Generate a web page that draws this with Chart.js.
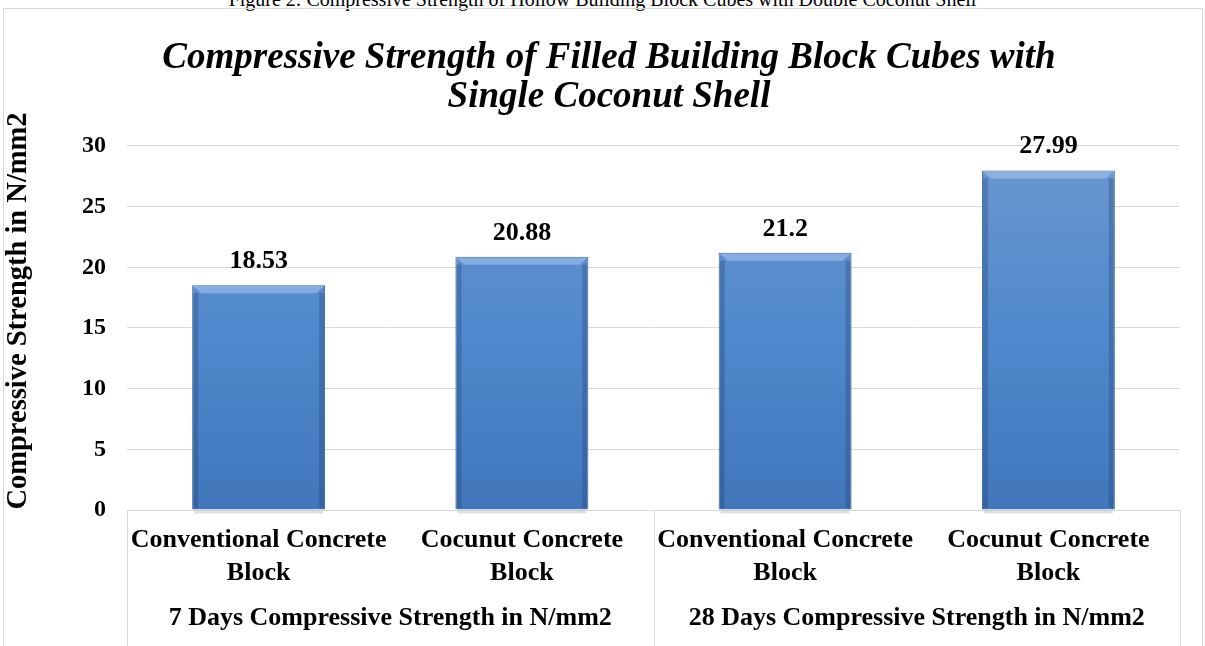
<!DOCTYPE html>
<html>
<head>
<meta charset="utf-8">
<script src="https://cdn.jsdelivr.net/npm/chart.js@4.4.1/dist/chart.umd.min.js"></script>
<style>
  body { margin: 0; background: #fff; overflow: hidden; }
  #page { position: relative; width: 1205px; height: 646px; overflow: hidden; }
  #caption { position: absolute; top: -12px; left: 0; width: 1205px; text-align: center;
    font: 20px 'Liberation Serif', 'Times New Roman', serif; color: #000; }
  #box { position: absolute; left: 3px; top: 8px; width: 1198px; height: 660px; border: 1px solid #d9d9d9; }
  #wrap { position: absolute; left: 0; top: 0; width: 1198px; height: 646px; }
</style>
</head>
<body>
<div id="page">
  <div id="caption">Figure 2: Compressive Strength of Hollow Building Block Cubes with Double Coconut Shell</div>
  <div id="box"><div id="wrap"><canvas id="chart"></canvas></div></div>
</div>
<script>
const categories = [
  ['Conventional Concrete', 'Block'],
  ['Cocunut Concrete', 'Block'],
  ['Conventional Concrete', 'Block'],
  ['Cocunut Concrete', 'Block'],
];
const groups = ['7 Days Compressive Strength in N/mm2', '28 Days Compressive Strength in N/mm2'];
const strength = [18.53, 20.88, 21.2, 27.99];
const valueLabels = ['18.53', '20.88', '21.2', '27.99'];
const yTicks = [0, 5, 10, 15, 20, 25, 30];
const yTitle = 'Compressive Strength in N/mm2';

const serif = "'Liberation Serif', 'Times New Roman', serif";
const gridGray = '#d9d9d9';

const barFill = (ctx) => {
  const { chart } = ctx;
  const area = chart.chartArea;
  if (!area) return '#4f81bd';
  const g = chart.ctx.createLinearGradient(0, area.top, 0, area.bottom);
  g.addColorStop(0, '#6c97cf');
  g.addColorStop(0.5, '#5089cd');
  g.addColorStop(1, '#4176bb');
  return g;
};

// bevel look, value labels, group separators, y title
const barExtras = {
  id: 'barExtras',
  afterDatasetsDraw(chart) {
    const c = chart.ctx;
    chart.getDatasetMeta(0).data.forEach((bar, i) => {
      const { x, y, base, width } = bar.getProps(['x', 'y', 'base', 'width'], true);
      const l = x - width / 2, r = x + width / 2;
      c.save();
      c.fillStyle = 'rgba(170,200,240,0.55)';
      c.beginPath();
      c.moveTo(l + 1, y + 1); c.lineTo(r - 1, y + 1); c.lineTo(r - 9, y + 8); c.lineTo(l + 9, y + 8);
      c.closePath(); c.fill();
      c.fillStyle = 'rgba(30,60,110,0.3)';
      c.fillRect(l + 1, y + 8, 5, base - y - 9);
      c.fillRect(r - 6, y + 8, 5, base - y - 9);
      c.fillStyle = 'rgba(0,0,0,0.12)';
      c.fillRect(l + 2, base + 1, width - 4, 3);
      c.fillStyle = '#000';
      c.font = 'bold 26px ' + serif;
      c.textAlign = 'center';
      c.textBaseline = 'alphabetic';
      c.fillText(valueLabels[i], x, y - 17);
      c.restore();
    });
  },
  afterDraw(chart) {
    const x = chart.scales.x;
    const y = chart.scales.y;
    const c = chart.ctx;
    c.save();
    c.strokeStyle = gridGray;
    c.lineWidth = 1;
    [x.left, (x.left + x.right) / 2, x.right].forEach((px) => {
      c.beginPath();
      c.moveTo(Math.round(px) + 0.5, chart.chartArea.bottom);
      c.lineTo(Math.round(px) + 0.5, chart.height);
      c.stroke();
    });
    c.translate(y.left - 19, (y.top + y.bottom) / 2 - 17);
    c.rotate(-Math.PI / 2);
    c.fillStyle = '#000';
    c.font = 'bold 28.5px ' + serif;
    c.textAlign = 'center';
    c.textBaseline = 'middle';
    c.fillText(yTitle, 0, 0);
    c.restore();
  },
};

new Chart(document.getElementById('chart'), {
  type: 'bar',
  data: {
    labels: categories,
    datasets: [{
      data: strength,
      backgroundColor: barFill,
      borderColor: '#3a659c',
      borderWidth: 1,
      barPercentage: 0.505,
      categoryPercentage: 1,
    }],
  },
  options: {
    responsive: true,
    maintainAspectRatio: false,
    animation: false,
    layout: { padding: { left: 34, right: 22, top: 0, bottom: 0 } },
    plugins: {
      legend: { display: false },
      tooltip: { enabled: false },
      title: {
        display: true,
        text: ['Compressive Strength of Filled Building Block Cubes with', 'Single Coconut Shell'],
        color: '#000',
        font: { family: serif, size: 37, weight: 'bold', style: 'italic', lineHeight: 1.054 },
        padding: { top: 30, bottom: 29 },
      },
    },
    scales: {
      y: {
        min: 0,
        max: 30,
        afterBuildTicks: (s) => { s.ticks = yTicks.map((v) => ({ value: v })); },
        afterFit: (s) => { s.width = 89; },
        grid: { color: gridGray, drawTicks: false },
        border: { display: false },
        ticks: { color: '#000', padding: 21, font: { family: serif, size: 24, weight: 'bold' } },
      },
      x: {
        afterFit: (s) => { s.height = 85; },
        grid: { display: false, drawTicks: false },
        border: { display: true, color: gridGray },
        ticks: { color: '#000', padding: 14, maxRotation: 0, autoSkip: false,
          font: { family: serif, size: 26, weight: 'bold', lineHeight: 1.27 } },
      },
      x2: {
        type: 'category',
        position: 'bottom',
        labels: groups,
        afterFit: (s) => { s.height = 60; },
        grid: { display: false, drawTicks: false },
        border: { display: false },
        ticks: { color: '#000', padding: 7, maxRotation: 0, autoSkip: false,
          font: { family: serif, size: 26, weight: 'bold', lineHeight: 1.27 } },
      },
    },
  },
  plugins: [barExtras],
});
</script>
</body>
</html>
